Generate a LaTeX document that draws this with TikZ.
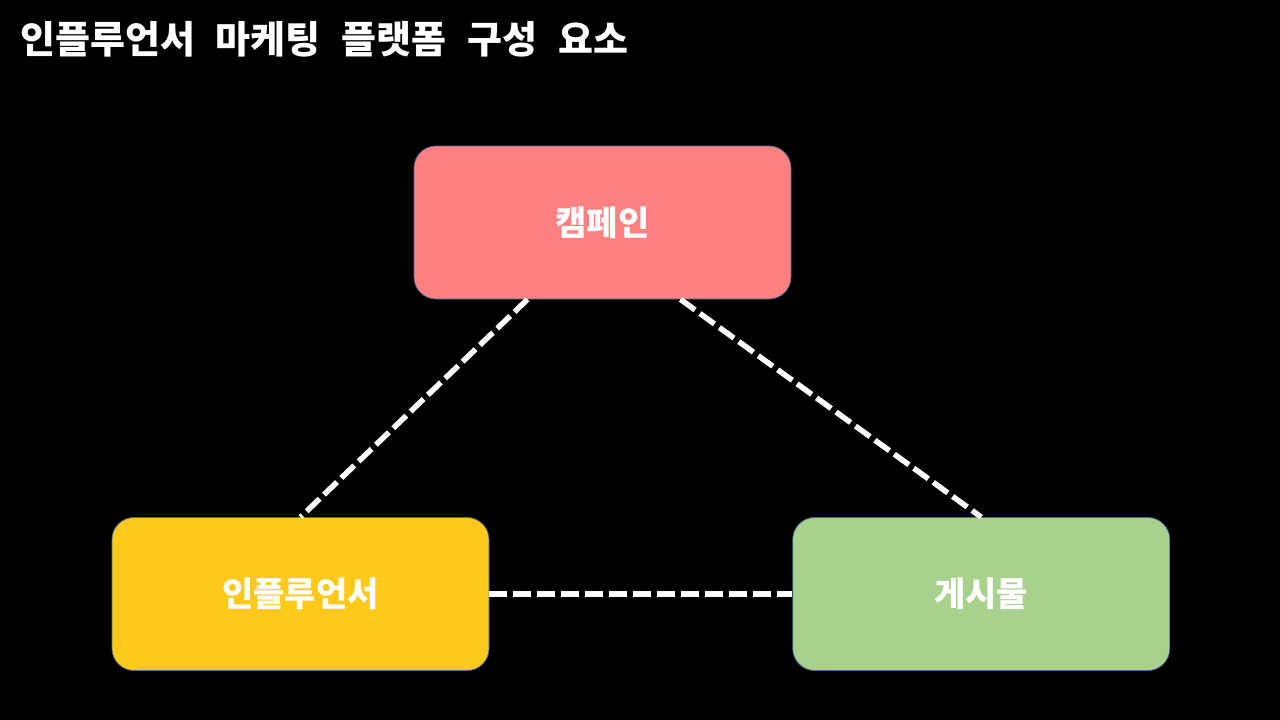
\documentclass[tikz,border=0pt]{standalone}
\usepackage{fontspec}
\setmainfont{Noto Sans CJK KR}
\newfontfamily\titlefont[WordSpace=2.4]{Noto Sans CJK KR}
\usetikzlibrary{positioning}
\definecolor{campaignRed}{HTML}{FF8080}
\definecolor{influencerYellow}{HTML}{FFC91B}
\definecolor{postGreen}{HTML}{A9D18E}
\definecolor{boxBorder}{HTML}{4A6A9C}

\begin{document}
\begin{tikzpicture}[x=1pt, y=-1pt,
    box/.style={rectangle, rounded corners=22pt, draw=boxBorder, line width=0.75pt, minimum width=377pt, minimum height=153pt, text=white, font=\fontsize{34}{40}\selectfont\bfseries},
    link/.style={white, line width=5.5pt, dash pattern=on 18pt off 6pt}]
    % Background
    \fill[black] (0,0) rectangle (1280,720);
    % Title
    \node[anchor=west, inner sep=0pt, text=white, font=\titlefont\fontsize{38}{44}\selectfont\bfseries] (title) at (20,39) {인플루언서 마케팅 플랫폼 구성 요소};
    % Rectangle: Campaign
    \node[box, fill=campaignRed] (campaign) at (602.5,222.5) {캠페인};
    % Rectangle: Influencer
    \node[box, fill=influencerYellow] (influencer) at (300.5,594) {인플루언서};
    % Rectangle: Post
    \node[box, fill=postGreen, right=303pt of influencer] (post) {게시물};
    % Dashed links
    \draw[link] ([xshift=-75pt]campaign.south) -- (influencer.north);
    \draw[link] ([xshift=78pt]campaign.south) -- (post.north);
    \draw[link] (influencer.east) -- (post.west);
\end{tikzpicture}
\end{document}
